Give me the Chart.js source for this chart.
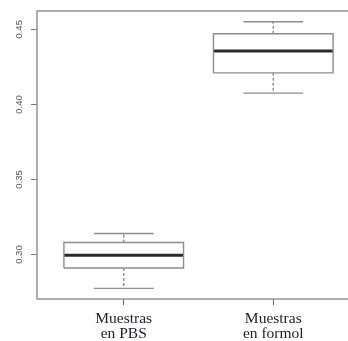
<!DOCTYPE html>
<html>
<head>
<meta charset="utf-8">
<script src="https://cdn.jsdelivr.net/npm/chart.js@4/dist/chart.umd.min.js"></script>
<style>
  html, body { margin: 0; padding: 0; background: #fff; overflow: hidden; }
  #wrap { position: relative; width: 362px; height: 341px; }
</style>
</head>
<body>
<div id="wrap"><canvas id="c"></canvas></div>
<script>
// Box plot summaries for the two sample groups
const categories = [["Muestras", "en PBS"], ["Muestras", "en formol"]];
const lowerWhisker = [0.2775, 0.4075];
const q1 = [0.291, 0.421];
const median = [0.2995, 0.4355];
const q3 = [0.308, 0.447];
const upperWhisker = [0.314, 0.455];
const yTicks = [0.30, 0.35, 0.40, 0.45];

const BOX_HALF = 0.4;   // half box width, in x units
const CAP_HALF = 0.2;   // half whisker-cap width
const lineGray = '#8c8c8c';

function seg(points, extra) {
  return Object.assign({
    data: points,
    showLine: true,
    pointRadius: 0,
    borderColor: lineGray,
    borderWidth: 1.4,
    fill: false,
    tension: 0
  }, extra || {});
}

const datasets = [];
categories.forEach((_, i) => {
  const x = i + 1;
  // whiskers (dashed)
  datasets.push(seg([{x: x, y: q3[i]}, {x: x, y: upperWhisker[i]}], {borderDash: [3, 2]}));
  datasets.push(seg([{x: x, y: q1[i]}, {x: x, y: lowerWhisker[i]}], {borderDash: [3, 2]}));
  // caps
  datasets.push(seg([{x: x - CAP_HALF, y: upperWhisker[i]}, {x: x + CAP_HALF, y: upperWhisker[i]}]));
  datasets.push(seg([{x: x - CAP_HALF, y: lowerWhisker[i]}, {x: x + CAP_HALF, y: lowerWhisker[i]}]));
  // box
  datasets.push(seg([
    {x: x - BOX_HALF, y: q1[i]}, {x: x + BOX_HALF, y: q1[i]},
    {x: x + BOX_HALF, y: q3[i]}, {x: x - BOX_HALF, y: q3[i]},
    {x: x - BOX_HALF, y: q1[i]}
  ]));
  // median
  datasets.push(seg([{x: x - BOX_HALF, y: median[i]}, {x: x + BOX_HALF, y: median[i]}],
    {borderColor: '#2b2b2b', borderWidth: 3, borderCapStyle: 'butt'}));
});

// plot frame around the chart area
const framePlugin = {
  id: 'frame',
  afterDraw(chart) {
    const a = chart.chartArea, ctx = chart.ctx;
    ctx.save();
    ctx.strokeStyle = lineGray;
    ctx.lineWidth = 1.4;
    ctx.strokeRect(a.left, a.top, a.right - a.left, a.bottom - a.top);
    ctx.restore();
  }
};

new Chart(document.getElementById('c'), {
  type: 'scatter',
  data: { datasets },
  plugins: [framePlugin],
  options: {
    responsive: true,
    maintainAspectRatio: false,
    animation: false,
    layout: { padding: { top: 11, right: 2, left: 0, bottom: 0 } },
    plugins: { legend: { display: false }, tooltip: { enabled: false } },
    scales: {
      x: {
        type: 'linear',
        min: 0.42,
        max: 2.58,
        afterBuildTicks: s => { s.ticks = categories.map((_, i) => ({ value: i + 1 })); },
        afterFit: s => { s.height = 42; },
        border: { display: false },
        grid: { drawOnChartArea: false, drawTicks: true, tickLength: 6, tickColor: '#666', lineWidth: 1 },
        ticks: {
          autoSkip: false,
          maxRotation: 0,
          padding: 6,
          color: '#1e1e28',
          font: { family: '"Liberation Serif", "DejaVu Serif", serif', size: 15.5, lineHeight: 1.0 },
          callback: (v, idx) => categories[idx]
        }
      },
      y: {
        type: 'linear',
        min: 0.2704,
        max: 0.4622,
        afterBuildTicks: s => { s.ticks = yTicks.map(v => ({ value: v })); },
        afterFit: s => { s.width = 37; },
        border: { display: false },
        grid: { drawOnChartArea: false, drawTicks: true, tickLength: 6, tickColor: '#777', lineWidth: 1 },
        ticks: {
          minRotation: 90,
          maxRotation: 90,
          crossAlign: 'center',
          padding: 2,
          color: '#555',
          font: { family: '"Liberation Sans", Arial, sans-serif', size: 9.5 },
          callback: v => v.toFixed(2)
        }
      }
    }
  }
});
</script>
</body>
</html>
